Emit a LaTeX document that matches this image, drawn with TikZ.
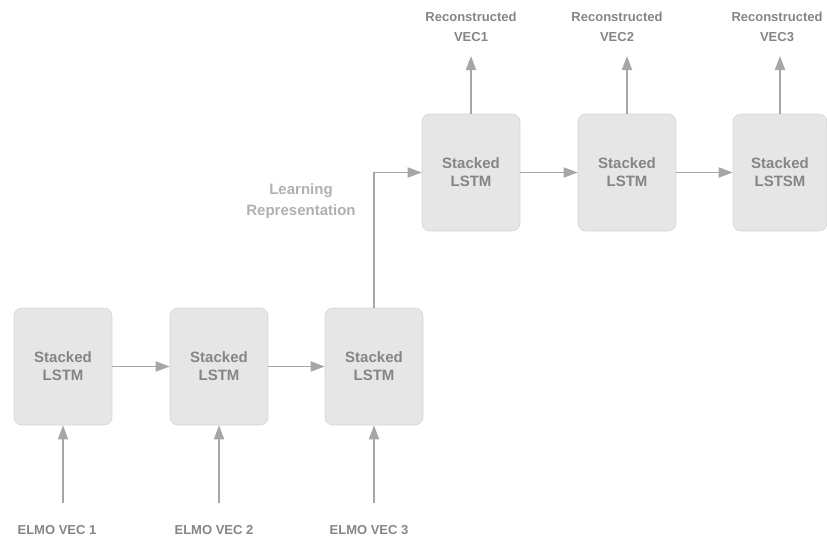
\documentclass[tikz,border=0pt]{standalone}
\usepackage{fontspec}
\setmainfont{Liberation Sans}
\usetikzlibrary{arrows.meta}
\definecolor{boxfill}{HTML}{E6E6E6}
\definecolor{boxline}{HTML}{D4D4D4}
\definecolor{txtgray}{HTML}{858585}
\definecolor{lightgray}{HTML}{B0B0B0}
\definecolor{arrgray}{HTML}{A6A6A6}

\begin{document}
\begin{tikzpicture}[x=1pt, y=-1pt,
  every node/.style={text=txtgray},
  lstm/.style={draw=boxline, fill=boxfill, rounded corners=8pt, line width=0.6pt,
               minimum width=98pt, minimum height=117pt, inner sep=0pt,
               align=center, font=\fontsize{15}{18}\selectfont\bfseries},
  vec/.style={align=center, font=\fontsize{13}{20}\selectfont\bfseries},
  flow/.style={-{Triangle[length=14pt, width=10pt]}, draw=arrgray, line width=1.8pt}]
  \useasboundingbox (0,0) rectangle (827,539);

  % Encoder row
  \node[lstm] (enc1) at (63, 366.5) {Stacked\\LSTM};
  \node[lstm] (enc2) at (219, 366.5) {Stacked\\LSTM};
  \node[lstm] (enc3) at (374, 366.5) {Stacked\\LSTM};

  % Decoder row
  \node[lstm] (dec1) at (471, 172.5) {Stacked\\LSTM};
  \node[lstm] (dec2) at (627, 172.5) {Stacked\\LSTM};
  \node[lstm, minimum width=94pt] (dec3) at (780, 172.5) {Stacked\\LSTSM};

  % Inputs
  \coordinate (in1) at (63, 503);
  \coordinate (in2) at (219, 503);
  \coordinate (in3) at (374, 503);
  \node[vec] (elmo1) at (57, 530) {ELMO VEC 1};
  \node[vec] (elmo2) at (214, 530) {ELMO VEC 2};
  \node[vec] (elmo3) at (369, 530) {ELMO VEC 3};
  \draw[flow] (in1) -- (enc1.south);
  \draw[flow] (in2) -- (enc2.south);
  \draw[flow] (in3) -- (enc3.south);

  % Outputs
  \coordinate (out1) at (471, 56);
  \coordinate (out2) at (627, 56);
  \coordinate (out3) at (780, 56);
  \node[vec] (rec1) at (471, 27) {Reconstructed\\VEC1};
  \node[vec] (rec2) at (617, 27) {Reconstructed\\VEC2};
  \node[vec] (rec3) at (777, 27) {Reconstructed\\VEC3};
  \draw[flow] (dec1.north) -- (out1);
  \draw[flow] (dec2.north) -- (out2);
  \draw[flow] (dec3.north) -- (out3);

  % Chain
  \draw[flow] (enc1.east) -- (enc2.west);
  \draw[flow] (enc2.east) -- (enc3.west);
  \draw[flow] (enc3.north) |- (dec1.west);
  \draw[flow] (dec1.east) -- (dec2.west);
  \draw[flow] (dec2.east) -- (dec3.west);

  \node[align=center, text=lightgray, font=\fontsize{15}{21}\selectfont\bfseries]
    (repr) at (301, 201.5) {Learning\\Representation};
\end{tikzpicture}
\end{document}
